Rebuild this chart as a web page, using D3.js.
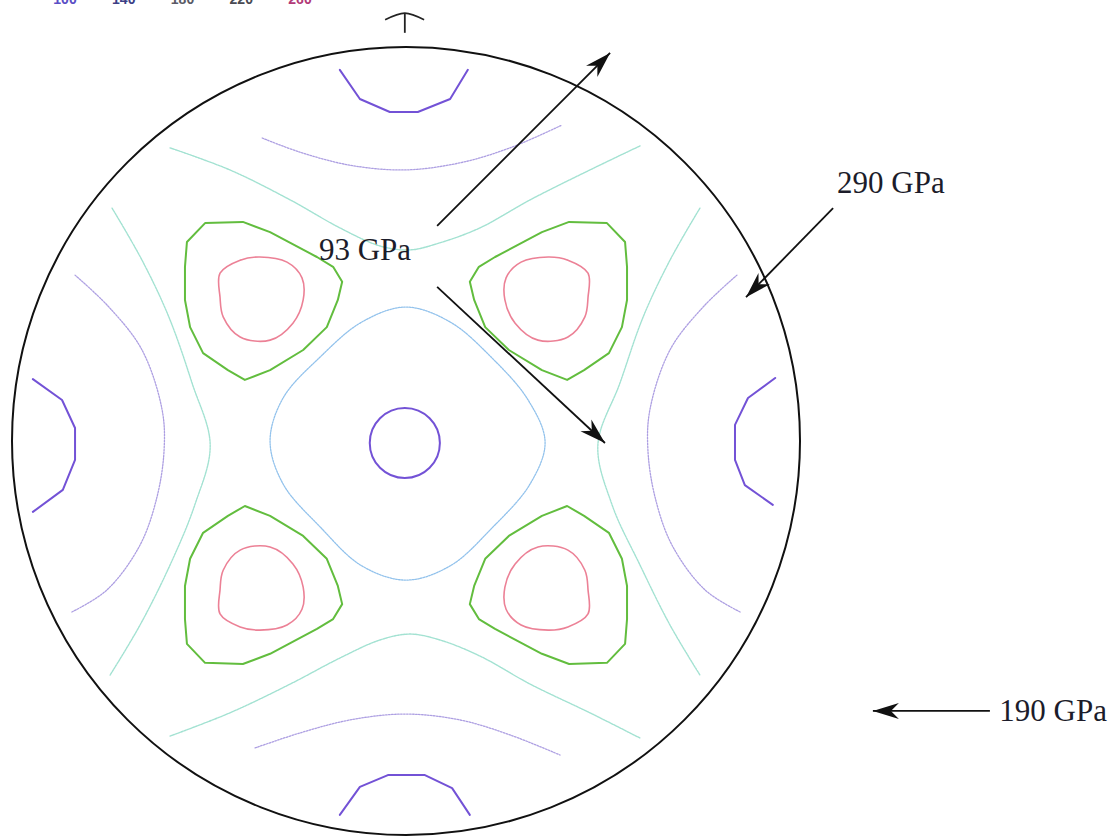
<!DOCTYPE html>
<html><head><meta charset="utf-8">
<script src="https://cdn.jsdelivr.net/npm/d3@7"></script>
<style>html,body{margin:0;padding:0;background:#fff;overflow:hidden}</style>
</head><body>
<svg id="chart" width="1113" height="839"></svg>
<script>
// ---- data (projection coordinates, circle radius = 100) ----
const levels = [100, 140, 180, 220, 260];
const levelLabels = ["100", "140", "180", "220", "260"];

const ring100 = [{cx: -0.3, cy: -0.5, r: 8.9}];
const arcs100 = [
  [[-16.8,94.2],[-11.7,86.8],[-4.1,83.5],[3.0,83.5],[11.2,86.8],[15.7,94.2]],
  [[-16.8,-94.9],[-11.7,-87.8],[-4.6,-84.8],[4.8,-84.8],[11.7,-88.1],[16.2,-94.9]],
  [[-94.7,15.7],[-87.3,10.4],[-84.0,3.3],[-84.0,-4.8],[-87.1,-12.4],[-94.7,-18.0]],
  [[93.7,16.0],[86.8,10.9],[83.5,4.1],[83.5,-4.8],[86.0,-11.2],[93.1,-16.2]]
];
const arcs140 = [
  [[-36.5,76.9],[-26.9,73.3],[-14.2,70.0],[-0.3,68.8],[13.7,70.6],[26.4,74.4],[39.6,80.2]],
  [[-38.3,-77.9],[-26.9,-74.1],[-14.2,-70.8],[-0.3,-69.3],[13.7,-70.8],[26.4,-74.6],[39.1,-79.7]],
  [[84.0,42.1],[75.4,34.0],[67.0,23.1],[61.9,7.9],[61.4,-2.3],[63.2,-14.2],[67.5,-26.4],[75.9,-37.8],[84.8,-43.4]],
  [[-84.0,42.1],[-75.4,34.0],[-67.0,23.1],[-61.9,7.9],[-61.4,-2.3],[-63.2,-14.2],[-67.5,-26.4],[-75.9,-37.8],[-84.8,-43.4]]
];
const loop180 = [
  [0,34.0],[11.2,30.2],[21.6,21.3],[31.0,10.4],[35.3,-0.3],[31.5,-10.9],[21.8,-22.1],[11.2,-31.7],
  [0,-35.3],[-11.2,-31.7],[-21.8,-21.8],[-31.2,-10.9],[-34.5,0],[-31.2,10.9],[-21.8,21.3],[-11.2,30.2]
];
const arcs180 = [
  [[-59.9,74.4],[-44.7,68.8],[-29.4,61.2],[-16.8,54.1],[-6.6,49.5],[1.0,48.5],[8.6,50.3],[18.8,54.1],[31.5,61.2],[46.7,68.8],[59.4,74.9]],
  [[-59.9,-74.9],[-44.7,-69.0],[-29.4,-61.7],[-16.8,-55.1],[-6.6,-50.5],[1.0,-49.0],[8.6,-50.5],[18.8,-54.6],[31.5,-61.7],[46.7,-69.0],[59.4,-75.4]],
  [[-74.6,59.1],[-67.0,45.9],[-60.2,31.5],[-54.3,14.7],[-49.7,-1.0],[-53.6,-16.2],[-59.9,-31.5],[-67.5,-46.7],[-75.1,-59.4]],
  [[74.6,59.1],[67.0,45.9],[60.2,31.5],[54.3,14.7],[48.7,-1.0],[52.3,-16.2],[59.4,-31.5],[67.0,-46.7],[74.6,-59.4]]
];
const loops220 = [
  [[-55.6,50.5],[-51.0,55.3],[-41.4,55.6],[-34.5,53.0],[-22.6,46.7],[-18.5,44.2],[-16.2,40.4],[-17.3,35.8],[-20.1,28.9],[-26.1,23.1],[-34.5,18.0],[-40.9,15.5],[-45.2,18.0],[-51.5,22.3],[-54.8,28.9],[-56.1,35.8],[-56.1,44.2]],
  [[55.6,50.5],[51.0,55.3],[41.4,55.6],[34.5,53.0],[22.6,46.7],[18.5,44.2],[16.2,40.4],[17.3,35.8],[20.1,28.9],[26.1,23.1],[34.5,18.0],[40.9,15.5],[45.2,18.0],[51.5,22.3],[54.8,28.9],[56.1,35.8],[56.1,44.2]],
  [[-55.6,-51.5],[-51.0,-56.3],[-41.4,-56.6],[-34.5,-54.0],[-22.6,-47.7],[-18.5,-45.2],[-16.2,-41.4],[-17.3,-36.8],[-20.1,-29.9],[-26.1,-24.1],[-34.5,-19.0],[-40.9,-16.5],[-45.2,-19.0],[-51.5,-23.3],[-54.8,-29.9],[-56.1,-36.8],[-56.1,-45.2]],
  [[55.6,-51.5],[51.0,-56.3],[41.4,-56.6],[34.5,-54.0],[22.6,-47.7],[18.5,-45.2],[16.2,-41.4],[17.3,-36.8],[20.1,-29.9],[26.1,-24.1],[34.5,-19.0],[40.9,-16.5],[45.2,-19.0],[51.5,-23.3],[54.8,-29.9],[56.1,-36.8],[56.1,-45.2]]
];
const loops260 = [
  [[-47.2,42.6],[-42.1,45.9],[-37.1,46.7],[-30.2,45.4],[-26.4,41.4],[-26.1,35.8],[-28.7,29.9],[-34.5,25.6],[-42.1,26.4],[-46.4,31.5],[-47.2,36.5]],
  [[46.2,42.6],[41.1,45.9],[36.1,46.7],[29.2,45.4],[25.4,41.4],[25.1,35.8],[27.7,29.9],[33.5,25.6],[41.1,26.4],[45.4,31.5],[46.2,36.5]],
  [[-47.2,-43.9],[-42.1,-47.2],[-37.1,-48.0],[-30.2,-46.7],[-26.4,-42.7],[-26.1,-37.1],[-28.7,-31.2],[-34.5,-26.9],[-42.1,-27.7],[-46.4,-32.8],[-47.2,-37.8]],
  [[46.2,-43.9],[41.1,-47.2],[36.1,-48.0],[29.2,-46.7],[25.4,-42.7],[25.1,-37.1],[27.7,-31.2],[33.5,-26.9],[41.1,-27.7],[45.4,-32.8],[46.2,-37.8]]
];

// annotations (same projection units)
const annotLabels = [
  {text: "93 GPa",  at: [-22.1, 45.9]},
  {text: "290 GPa", at: [109.4, 62.9]},
  {text: "190 GPa", at: [150.6, -71.1]}
];
const annotArrows = [
  {from: [7.9, 54.6],   to: [51.8, 98.5]},
  {from: [7.9, 39.1],   to: [50.5, -0.5]},
  {from: [108.4, 59.1], to: [86.3, 36.5]},
  {from: [148.2, -68.5], to: [118.5, -68.5]}
];
const northStem = [[-0.3, 103.6], [-0.3, 108.6]];
const northCap  = [[-5.3, 106.9], [-0.3, 108.6], [4.6, 106.9]];

// ---- styles ----
const style = {
  100: {stroke: "#7352d6", width: 2.0, dash: null},
  140: {stroke: "#ad9fe2", width: 1.3, dash: "1.6 1.4"},
  "180in": {stroke: "#92c2ec", width: 1.3, dash: "1.6 1.2"},
  180: {stroke: "#a3e2d2", width: 1.4, dash: "2 1"},
  220: {stroke: "#62bd3e", width: 2.0, dash: null},
  260: {stroke: "#ec8196", width: 1.6, dash: null}
};
const legendColors = ["#5a4ec6", "#3c3f86", "#5a5a66", "#4a4a52", "#b23a78"];

// ---- drawing ----
const svg = d3.select("#chart");
const CX = 406, CY = 441, R = 394;
const x = d3.scaleLinear().domain([-100, 100]).range([CX - R, CX + R]);
const y = d3.scaleLinear().domain([-100, 100]).range([CY + R, CY - R]);

const defs = svg.append("defs");
defs.append("marker").attr("id", "ah").attr("viewBox", "-26 -9 28 18")
  .attr("refX", 0).attr("refY", 0).attr("markerWidth", 28).attr("markerHeight", 18)
  .attr("markerUnits", "userSpaceOnUse").attr("orient", "auto")
  .append("path").attr("d", "M0,0 L-26,-8 L-18,0 L-26,8 Z").attr("fill", "#111");

// legend (cut at the top edge, as in the source figure)
const lx = d3.scalePoint().domain(levels).range([65, 300]);
svg.append("g").selectAll("text").data(levels).join("text")
  .attr("x", d => lx(d)).attr("y", 4)
  .attr("text-anchor", "middle")
  .attr("font-family", "Liberation Sans, Arial, sans-serif")
  .attr("font-size", 14).attr("font-weight", "bold")
  .attr("fill", (d, i) => legendColors[i])
  .text((d, i) => levelLabels[i]);

const lineOpen = d3.line().x(d => x(d[0])).y(d => y(d[1])).curve(d3.curveCatmullRom.alpha(0.5));
const lineLin = d3.line().x(d => x(d[0])).y(d => y(d[1]));
const lineClosedSmooth = d3.line().x(d => x(d[0])).y(d => y(d[1])).curve(d3.curveCatmullRomClosed.alpha(0.5));
const lineClosedLin = d3.line().x(d => x(d[0])).y(d => y(d[1])).curve(d3.curveLinearClosed);

function draw(data, gen, st) {
  svg.append("g").selectAll("path").data(data).join("path")
    .attr("d", gen).attr("fill", "none")
    .attr("stroke", st.stroke).attr("stroke-width", st.width)
    .attr("stroke-dasharray", st.dash)
    .attr("stroke-linejoin", "round").attr("stroke-linecap", "round");
}

draw(arcs140, lineOpen, style[140]);
draw([loop180], lineClosedSmooth, style["180in"]);
draw(arcs180, lineOpen, style[180]);
draw(loops220, lineClosedLin, style[220]);
draw(loops260, lineClosedSmooth, style[260]);
draw(arcs100, lineLin, style[100]);
svg.append("g").selectAll("circle").data(ring100).join("circle")
  .attr("cx", d => x(d.cx)).attr("cy", d => y(d.cy))
  .attr("r", d => x(d.r) - x(0))
  .attr("fill", "none").attr("stroke", style[100].stroke).attr("stroke-width", style[100].width);

// outer circle
svg.append("circle").attr("cx", x(0)).attr("cy", y(0)).attr("r", x(100) - x(0))
  .attr("fill", "none").attr("stroke", "#111").attr("stroke-width", 2);

// north marker
svg.append("path").attr("d", lineLin(northStem)).attr("stroke", "#222").attr("stroke-width", 1.8).attr("fill", "none");
svg.append("path").attr("d", lineOpen(northCap)).attr("stroke", "#222").attr("stroke-width", 1.6).attr("fill", "none");

// arrows
svg.append("g").selectAll("line").data(annotArrows).join("line")
  .attr("x1", d => x(d.from[0])).attr("y1", d => y(d.from[1]))
  .attr("x2", d => x(d.to[0])).attr("y2", d => y(d.to[1]))
  .attr("stroke", "#111").attr("stroke-width", 1.8)
  .attr("marker-end", "url(#ah)");

// labels
svg.append("g").selectAll("text").data(annotLabels).join("text")
  .attr("x", d => x(d.at[0])).attr("y", d => y(d.at[1]))
  .attr("font-family", "Liberation Serif, Times New Roman, serif")
  .attr("font-size", 31).attr("fill", "#1c1c2a")
  .text(d => d.text);
</script>
</body></html>
